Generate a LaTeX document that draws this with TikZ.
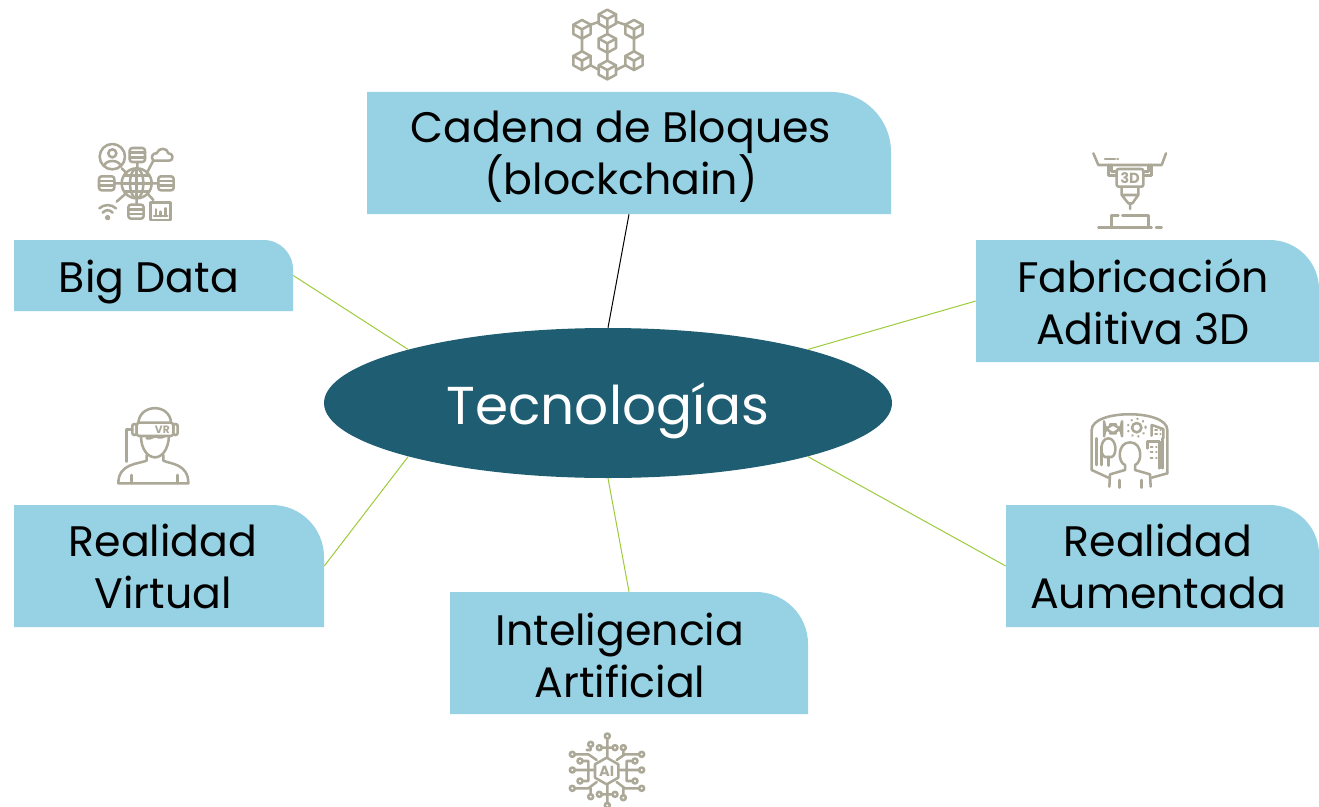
\documentclass[tikz,border=0pt]{standalone}
\usepackage{fontspec}
\setmainfont{Poppins}
\usetikzlibrary{shapes.geometric}
\definecolor{boxblue}{HTML}{97D1E4}
\definecolor{hubteal}{HTML}{1F5E72}
\definecolor{linkgreen}{HTML}{9CCB3C}
\definecolor{iconcol}{HTML}{ABA897}
\tikzset{
  x=0.75pt,y=-0.75pt,
  tealbox/.style={rectangle,inner sep=0pt,path picture={
    \fill[boxblue] (path picture bounding box.south west) -- (path picture bounding box.north west)
      [rounded corners=#1] -- (path picture bounding box.north east) [sharp corners]
      -- (path picture bounding box.south east) -- cycle;}},
  boxtext/.style={inner sep=0pt,align=center,font=\fontsize{32}{39}\selectfont,text=black},
  hub/.style={ellipse,fill=hubteal,inner sep=0pt,minimum width=426pt,minimum height=112.5pt},
  hubtext/.style={inner sep=0pt,text=white,font=\fontsize{40}{46}\selectfont},
  link/.style={linkgreen,line width=0.75pt},
  blacklink/.style={black,line width=0.75pt},
  icon/.style={draw=iconcol,line width=1.9pt,line cap=round,line join=round},
  iconsmall/.style={icon,line width=1.5pt},
  iconzoom/.style={x=0.25pt,y=-0.25pt,icon},
  icube/.pic={
    \draw[iconzoom] (0,-28) -- (26,-14) -- (26,14) -- (0,28) -- (-26,14) -- (-26,-14) -- cycle;
    \draw[iconzoom] (-26,-14) -- (0,0) -- (26,-14) (0,0) -- (0,28);
  },
  idb/.pic={
    \draw[iconzoom,rounded corners=2pt] (-23,-21) rectangle (23,21);
    \draw[iconzoom] (-23,-7) -- (23,-7) (-23,7) -- (23,7);
  }
}
\begin{document}
\begin{tikzpicture}
\useasboundingbox (0,0) rectangle (1319,806);
% boxes
\node[tealbox=45pt,minimum width=393pt,minimum height=91.5pt] (cad) at (629,153) {};
\node[tealbox=22pt,minimum width=209.25pt,minimum height=53.25pt] (big) at (153.5,275.5) {};
\node[tealbox=37pt,minimum width=257.25pt,minimum height=91.5pt] (fab) at (1147.5,301) {};
\node[tealbox=39pt,minimum width=232.5pt,minimum height=91.5pt] (vir) at (169,566) {};
\node[tealbox=39pt,minimum width=268.5pt,minimum height=91.5pt] (ia) at (629,653) {};
\node[tealbox=37pt,minimum width=234.75pt,minimum height=91.5pt] (aum) at (1162.5,566) {};
\node[hub] (tec) at (608,403) {};
\node[hubtext] (tecT) at (608,411) {Tecnologías};
% connectors
\draw[blacklink] (cad.south) -- (tec.north);
\draw[link] (big.east) -- (tec.165);
\draw[link] (fab.west) -- (tec.15);
\draw[link] (aum.west) -- (tec.-15);
\draw[link] (ia.north) -- (tec.south);
\draw[link] (vir.east) -- (tec.195);
% labels
\node[boxtext] (cadT) at (621,157) {Cadena de Bloques\\(blockchain)};
\node[boxtext] (bigT) at (149,282) {Big Data};
\node[boxtext] (fabT) at (1143,302) {Fabricación\\Aditiva 3D};
\node[boxtext] (virT) at (163,566) {Realidad\\Virtual};
\node[boxtext] (iaT) at (620,655) {Inteligencia\\Artificial};
\node[boxtext] (aumT) at (1158,566) {Realidad\\Aumentada};
% blockchain icon
\begin{scope}[shift={(560,0)},x=0.25pt,y=-0.25pt]
\draw[icon] (142,85) -- (142,102) (142,158) -- (142,182) (90,75) -- (118,65) (168,65) -- (198,75)
 (66,116) -- (66,154) (222,116) -- (222,154) (90,195) -- (118,210) (168,210) -- (198,195);
\foreach \p in {(142,57),(66,88),(222,88),(142,130),(66,182),(222,182),(142,210)} \path \p pic {icube};
\end{scope}
% big data icon
\begin{scope}[shift={(90,140)},x=0.25pt,y=-0.25pt]
\draw[icon] (67,50) circle[radius=38];
\draw[icon] (67,40) circle[radius=12];
\draw[icon] (42,78) .. controls (47,58) and (87,58) .. (92,78);
\path (142,45) pic {idb} (50,130) pic {idb} (228,130) pic {idb} (138,215) pic {idb};
\draw[icon] (140,130) circle[radius=45];
\draw[icon] (140,130) ellipse[x radius=20,y radius=45];
\draw[icon] (95,130) -- (185,130) (104,106) -- (176,106) (104,154) -- (176,154) (140,85) -- (140,175);
\draw[icon] (190,62) .. controls (180,50) and (190,38) .. (200,40) .. controls (205,22) and (232,22) .. (235,40) .. controls (250,38) and (252,62) .. (238,62) -- cycle;
\draw[icon] (95,85) -- (110,100) (142,66) -- (142,85) (190,62) -- (170,100) (73,130) -- (95,130) (185,130) -- (205,130) (140,175) -- (140,194) (172,160) -- (190,180) (108,160) -- (80,185);
\draw[icon] (182,188) rectangle (242,240);
\draw[icon] (198,228) -- (198,208) (212,228) -- (212,215) (226,228) -- (226,205) (192,228) -- (232,228);
\draw[icon] (28,205) .. controls (42,192) and (64,192) .. (78,205) (38,218) .. controls (48,208) and (58,208) .. (68,218);
\draw[icon] (53,233) circle[radius=5];
\end{scope}
% printer icon
\begin{scope}[shift={(1080,145)},x=0.25pt,y=-0.25pt]
\draw[icon] (40,25) -- (55,60) -- (245,60) -- (258,25);
\draw[icon] (75,42) -- (105,42) (112,42) -- (114,42);
\draw[icon] (85,60) -- (85,92) -- (110,92) (95,60) -- (95,80) -- (110,80);
\draw[icon] (215,60) -- (215,92) -- (190,92) (205,60) -- (205,80) -- (190,80);
\draw[icon,rounded corners=1.5pt] (110,72) rectangle (190,125);
\node[text=iconcol,font=\fontsize{11}{11}\selectfont\bfseries,inner sep=0pt] (td) at (150,99) {3D};
\draw[icon] (125,125) -- (125,150) -- (145,175) -- (157,175) -- (175,150) -- (175,125) (125,150) -- (175,150) (150,175) -- (150,192);
\draw[icon] (95,245) -- (95,212) -- (115,212) (127,212) -- (205,212) -- (205,245);
\draw[icon] (55,248) -- (215,248) (228,248) -- (245,248);
\end{scope}
% VR icon
\begin{scope}[shift={(105,400)},x=0.25pt,y=-0.25pt]
\draw[icon] (100,68) .. controls (105,10) and (195,10) .. (198,68);
\draw[icon,rounded corners=2pt] (95,68) rectangle (205,108);
\draw[icon,rounded corners=1.5pt] (82,72) rectangle (95,105) (205,72) rectangle (218,105);
\node[text=iconcol,font=\fontsize{8}{8}\selectfont\bfseries,inner sep=0pt] (vr) at (172,88) {VR};
\draw[icon] (82,88) -- (65,88) -- (65,185);
\draw[icon] (108,108) .. controls (108,150) and (130,172) .. (150,172) .. controls (170,172) and (190,150) .. (192,108);
\draw[icon] (125,115) .. controls (140,118) and (145,106) .. (155,110) .. controls (165,115) and (175,112) .. (180,108);
\draw[icon] (125,165) -- (125,182) .. controls (100,192) and (40,190) .. (40,250) -- (250,250) .. controls (250,190) and (195,192) .. (175,182) -- (175,165);
\draw[icon] (80,225) -- (80,250) (218,225) -- (218,250);
\end{scope}
% AR icon
\begin{scope}[shift={(1080,405)},x=0.25pt,y=-0.25pt]
\draw[icon] (35,195) -- (35,75) .. controls (35,12) and (262,12) .. (262,75) -- (262,205);
\draw[icon] (35,195) -- (85,218) (262,205) -- (215,218);
\draw[icon] (50,180) -- (50,100) (248,190) -- (248,100);
\draw[icon,rounded corners=9pt] (72,58) rectangle (126,85);
\draw[icon] (170,68) circle[radius=14];
\draw[icon,dash pattern=on 0.1pt off 4.5pt] (170,68) circle[radius=27];
\draw[icon] (202,130) -- (202,110) -- (238,110) -- (238,190);
\draw[icon] (215,92) -- (215,60) -- (250,72) -- (250,100);
\draw[iconsmall,dash pattern=on 1.5pt off 2.5pt] (212,125) -- (230,125) (212,142) -- (230,142) (212,160) -- (230,160) (225,75) -- (242,75) (225,88) -- (242,88);
\draw[icon] (85,100) .. controls (60,100) and (58,150) .. (75,156) -- (95,156) .. controls (112,150) and (110,100) .. (85,100);
\draw[icon] (85,156) -- (85,182) (65,125) -- (65,180);
\draw[icon] (150,112) .. controls (112,112) and (112,172) .. (135,180) -- (135,195) -- (90,208) -- (88,245)
 (150,112) .. controls (188,112) and (188,172) .. (165,180) -- (165,195) -- (210,208) -- (212,245);
\draw[icon] (118,225) -- (118,248) (185,225) -- (185,248);
\end{scope}
% AI icon
\begin{scope}[shift={(560,726)},x=0.25pt,y=-0.25pt]
\draw[icon] (140,95) -- (175,115) -- (175,155) -- (140,175) -- (105,155) -- (105,115) -- cycle;
\node[text=iconcol,font=\fontsize{11}{11}\selectfont\bfseries,inner sep=0pt] (ai) at (140,136) {AI};
\draw[icon] (142,38) -- (142,95) (125,65) -- (157,65) (92,62) -- (92,72) -- (80,72) (45,85) -- (85,85) -- (110,102)
 (170,102) -- (195,85) -- (235,85) (190,72) -- (190,85)
 (45,132) -- (105,132) (68,105) -- (85,105) -- (85,165) -- (68,165) (175,132) -- (238,132) (218,105) -- (200,105) -- (200,165) -- (218,165)
 (45,187) -- (85,187) -- (110,168) (170,168) -- (195,187) -- (235,187) (92,205) -- (92,187)
 (142,175) -- (142,232) (125,205) -- (157,205) (190,208) -- (190,187);
\foreach \p in {(142,30),(92,55),(37,85),(245,85),(37,132),(60,105),(60,165),(37,187),(92,212),(142,238),(190,215),(245,187),(245,132),(225,105),(225,165),(118,65),(165,65),(118,205),(165,205),(190,65)}
  \draw[icon] \p circle[radius=7.5];
\end{scope}
\end{tikzpicture}
\end{document}
